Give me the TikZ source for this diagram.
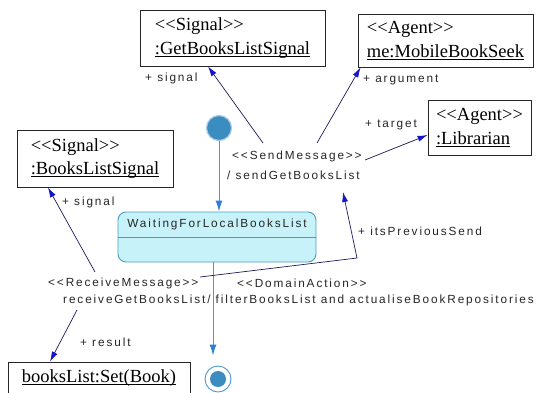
\documentclass[tikz,border=0pt]{standalone}
\usepackage{fontspec}
\newfontfamily\bxfont{Liberation Serif}
\newfontfamily\lbfont{Liberation Sans}[LetterSpace=16]
\usetikzlibrary{arrows.meta,calc}
\definecolor{navy}{HTML}{1C1C5A}
\definecolor{tipblue}{HTML}{1414C8}
\definecolor{stfill}{HTML}{C8F2F9}
\definecolor{stline}{HTML}{4A9FB8}
\definecolor{initc}{HTML}{3B8CC0}
\definecolor{flow}{HTML}{4A98CF}
\definecolor{flowtip}{HTML}{2E7FD6}
\newcommand\ulx[1]{\setbox0\hbox{#1}\rlap{\rule[-2.6pt]{\wd0}{0.8pt}}\box0}
\begin{document}
\begin{tikzpicture}[x=1pt,y=-1pt,
  box/.style={draw=black!85, line width=0.9pt, inner sep=0pt, align=left,
    font=\bxfont\fontsize{18.5}{23.5}\selectfont},
  lab/.style={inner sep=0pt, anchor=west, align=left,
    font=\lbfont\fontsize{11.8}{20}\selectfont, text=black!85},
  conn/.style={draw=navy, line width=0.7pt,
    -{Latex[length=10pt,width=6pt,color=tipblue,fill=tipblue]}},
  flowarr/.style={draw=flow, line width=1pt,
    -{Latex[length=11pt,width=7pt,color=flowtip,fill=flowtip]}},
  statebox/.style={draw=stline, fill=stfill, line width=0.9pt, rounded corners=8pt, inner sep=0pt},
]
\useasboundingbox[fill=white] (0,0) rectangle (537,392);

% object boxes
\node[box, minimum width=185pt, minimum height=56pt] (gs) at (232.5,38)
  {<<Signal>>\\\ulx{:GetBooksListSignal}};
\node[box, minimum width=175pt, minimum height=53pt] (mb) at (445.5,40.5)
  {<<Agent>>\\\ulx{me:MobileBookSeek}};
\node[box, minimum width=103pt, minimum height=55pt] (lb) at (479.5,127.5)
  {<<Agent>>\\\ulx{:Librarian}};
\node[box, minimum width=156pt, minimum height=57pt] (bls) at (95,158.5)
  {<<Signal>>\\\ulx{:BooksListSignal}};
\node[box, minimum width=182pt, minimum height=32pt] (bk) at (99,378)
  {\ulx{booksList:Set(Book)}};

% state machine
\node[circle, fill=initc, draw=initc!45, line width=1.2pt, minimum size=25pt, inner sep=0pt] (init) at (219,128) {};
\node[statebox, minimum width=198pt, minimum height=50pt] (wait) at (217,237) {};
\draw[stline, line width=0.9pt] (wait.west) -- (wait.east);
\node[lab, anchor=center] (waitlbl) at ($(wait.north)!0.5!(wait.center)$) {WaitingForLocalBooksList};
\node[circle, draw=flow, line width=0.9pt, minimum size=26pt, inner sep=0pt] (fin) at (218,379) {};
\node[circle, fill=initc, minimum size=16pt, inner sep=0pt] (finin) at (fin) {};

\draw[flowarr] (init) -- (init |- wait.north);
\draw[flowarr] ([xshift=-4pt]wait.south) -- ([xshift=-5pt,yshift=10pt]fin.north);

% labels
\node[lab] (sm) at (227,165) {\hspace{5pt}<<SendMessage>>\\/ sendGetBooksList};
\node[lab] (ps1) at (145,78) {+ signal};
\node[lab] (parg) at (363,80) {+ argument};
\node[lab] (ptar) at (365,125) {+ target};
\node[lab] (ps2) at (62,202) {+ signal};
\node[lab] (pips) at (358,231) {+ itsPreviousSend};
\node[lab] (rm) at (48,283) {<<ReceiveMessage>>};
\node[lab] (da) at (237,283) {<<DomainAction>>};
\node[lab] (act) at (63,300) {receiveGetBooksList/ filterBooksList and actualiseBookRepositories};
\node[lab] (pres) at (80,342) {+ result};

% connectors
\coordinate (c1) at (263,143);
\coordinate (c2) at (317,143);
\coordinate (c3) at (365,160);
\coordinate (c4) at (95,272);
\coordinate (c5a) at (200,277);
\coordinate (c5b) at (357,258);
\coordinate (c5c) at (343,192);
\coordinate (c6) at (77,310);
\draw[conn] (c1) -- ([xshift=-24.5pt]gs.south);
\draw[conn] (c2) -- ([xshift=3pt]mb.south west);
\draw[conn] (c3) -- ([yshift=-7.5pt]lb.west);
\draw[conn] (c4) -- ([xshift=-47pt]bls.south);
\draw[conn] (c5a) -- (c5b) -- (c5c);
\draw[conn] (c6) -- ([xshift=-49pt]bk.north);
\end{tikzpicture}
\end{document}
